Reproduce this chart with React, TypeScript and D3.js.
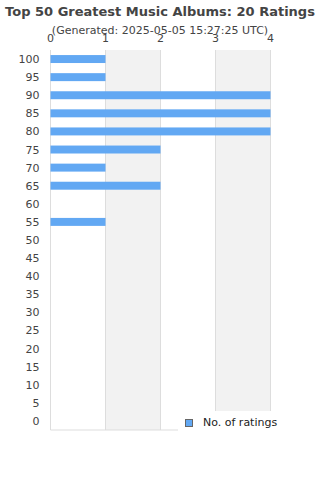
import { useEffect, useRef } from 'react';
import * as d3 from 'd3';

const title = 'Top 50 Greatest Music Albums: 20 Ratings';
const subtitle = '(Generated: 2025-05-05 15:27:25 UTC)';
const scores = [100, 95, 90, 85, 80, 75, 70, 65, 60, 55, 50, 45, 40, 35, 30, 25, 20, 15, 10, 5, 0];
const counts = [1, 1, 4, 4, 4, 2, 1, 2, 0, 1, 0, 0, 0, 0, 0, 0, 0, 0, 0, 0, 0];
const xTicks = [0, 1, 2, 3, 4];
const seriesName = 'No. of ratings';

const FONT = '"DejaVu Sans", sans-serif';

export default function App() {
  const svgRef = useRef<SVGSVGElement>(null);

  useEffect(() => {
    if (!svgRef.current) return;
    const svg = d3.select(svgRef.current);
    svg.selectAll('*').remove();

    const width = 320;
    const height = 480;
    const margin = { top: 50, right: 49.5, bottom: 50, left: 50.5 };
    const plotW = width - margin.left - margin.right;
    const plotH = height - margin.top - margin.bottom;

    svg.append('rect').attr('width', width).attr('height', height).attr('fill', '#fff');

    const x = d3.scaleLinear().domain([0, 4]).range([0, plotW]);
    const y = d3
      .scaleBand<number>()
      .domain(scores)
      .range([0, plotH])
      .paddingInner(0.56)
      .paddingOuter(0.28);

    const g = svg.append('g').attr('transform', `translate(${margin.left},${margin.top})`);

    // alternating bands
    g.selectAll('.band')
      .data(xTicks.slice(0, -1))
      .enter()
      .append('rect')
      .attr('x', d => x(d))
      .attr('y', 0)
      .attr('width', d => x(d + 1) - x(d))
      .attr('height', plotH)
      .attr('fill', (d, i) => (i % 2 === 1 ? '#f2f2f2' : '#fff'));

    // grid lines
    g.selectAll('.grid')
      .data(xTicks)
      .enter()
      .append('line')
      .attr('x1', d => x(d))
      .attr('x2', d => x(d))
      .attr('y1', 0)
      .attr('y2', plotH)
      .attr('stroke', '#dddddd')
      .attr('stroke-width', 1);

    g.append('line')
      .attr('x1', 0)
      .attr('x2', plotW)
      .attr('y1', plotH)
      .attr('y2', plotH)
      .attr('stroke', '#dddddd');

    // bars
    g.selectAll('.bar')
      .data(scores.map((s, i) => ({ s, v: counts[i] })))
      .enter()
      .append('rect')
      .attr('x', x(0))
      .attr('y', d => y(d.s) ?? 0)
      .attr('width', d => x(d.v) - x(0))
      .attr('height', y.bandwidth())
      .attr('fill', '#62a8f3');

    // top axis labels
    g.selectAll('.xt')
      .data(xTicks)
      .enter()
      .append('text')
      .attr('x', d => x(d))
      .attr('y', -8)
      .attr('text-anchor', 'middle')
      .attr('font-family', FONT)
      .attr('font-size', 11)
      .attr('fill', '#444')
      .text(d => d);

    // left axis labels
    g.selectAll('.yt')
      .data(scores)
      .enter()
      .append('text')
      .attr('x', -11)
      .attr('y', d => (y(d) ?? 0) + y.bandwidth() / 2 + 4)
      .attr('text-anchor', 'end')
      .attr('font-family', FONT)
      .attr('font-size', 11)
      .attr('fill', '#444')
      .text(d => d);

    // legend
    const lg = svg.append('g').attr('transform', 'translate(178,411)');
    lg.append('rect').attr('width', 142).attr('height', 24).attr('fill', '#fff');
    lg.append('rect')
      .attr('x', 7.5)
      .attr('y', 8.5)
      .attr('width', 7)
      .attr('height', 7)
      .attr('fill', '#62a8f3')
      .attr('stroke', '#666')
      .attr('stroke-width', 1);
    lg.append('text')
      .attr('x', 25)
      .attr('y', 15)
      .attr('font-family', FONT)
      .attr('font-size', 11)
      .attr('fill', '#222')
      .text(seriesName);

    // titles
    svg.append('text')
      .attr('x', width / 2)
      .attr('y', 16)
      .attr('text-anchor', 'middle')
      .attr('font-family', FONT)
      .attr('font-size', 13)
      .attr('font-weight', 'bold')
      .attr('fill', '#444')
      .text(title);
    svg.append('text')
      .attr('x', width / 2)
      .attr('y', 34)
      .attr('text-anchor', 'middle')
      .attr('font-family', FONT)
      .attr('font-size', 11)
      .attr('fill', '#444')
      .text(subtitle);
  }, []);

  return (
    <svg
      ref={svgRef}
      width={320}
      height={480}
      style={{ position: 'absolute', left: 0, top: 0, display: 'block' }}
    />
  );
}
